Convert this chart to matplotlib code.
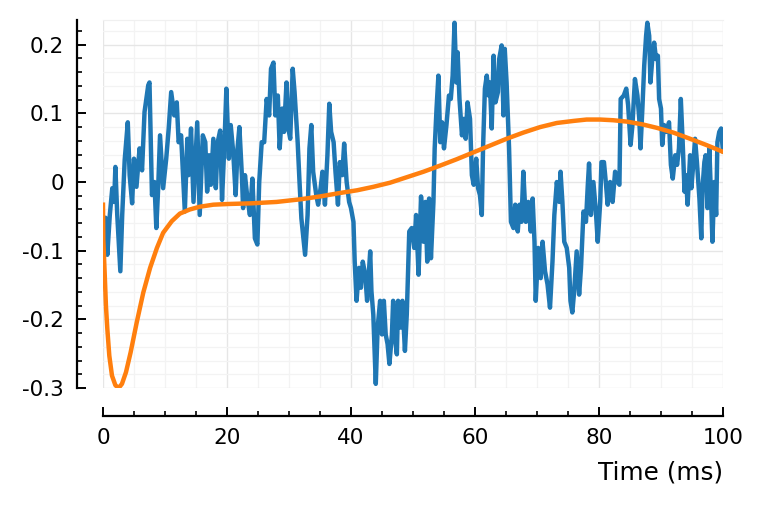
import matplotlib
matplotlib.use("Agg")
from matplotlib import pyplot as plt
from matplotlib.ticker import MultipleLocator

# --- recorded trace (ms, value) --- #
trace_t = [
    0.0, 0.4, 0.7, 1.1, 1.5, 1.8, 2.0, 2.3, 2.8, 3.1, 3.5, 4.0, 4.3, 4.7, 5.0,
    5.4, 5.9, 6.3, 6.7, 7.3, 7.5, 7.9, 8.3, 8.6, 8.9, 9.2, 9.7, 10.2, 10.6,
    11.0, 11.5, 11.9, 12.2, 12.6, 13.2, 13.6, 13.8, 14.2, 14.6, 15.2, 15.6,
    16.1, 16.5, 16.8, 17.1, 17.4, 17.8, 18.2, 18.5, 18.9, 19.2, 19.6, 19.9,
    20.3, 20.6, 21.0, 21.4, 21.7, 22.0, 22.4, 22.6, 22.9, 23.3, 23.7, 24.1,
    24.5, 24.9, 25.2, 25.6, 26.0, 26.4, 26.8, 27.1, 27.5, 27.8, 28.2, 28.5,
    28.9, 29.2, 29.6, 29.9, 30.2, 30.6, 30.9, 31.4, 31.7, 32.0, 32.6, 33.0,
    33.3, 33.6, 33.9, 34.4, 34.7, 35.1, 35.4, 35.8, 36.2, 36.5, 36.8, 37.2,
    37.5, 37.9, 38.2, 38.6, 38.9, 39.3, 39.7, 40.0, 40.4, 40.6, 40.9, 41.3,
    41.6, 41.9, 42.3, 42.6, 43.1, 43.3, 43.6, 44.0, 44.3, 44.7, 45.0, 45.3,
    45.6, 45.9, 46.2, 46.6, 46.8, 47.1, 47.4, 47.6, 48.0, 48.3, 48.7, 49.0,
    49.4, 49.8, 50.2, 50.5, 50.9, 51.3, 51.7, 52.0, 52.3, 52.6, 52.9, 53.3,
    53.5, 53.8, 54.1, 54.4, 54.7, 55.0, 55.4, 55.8, 56.1, 56.4, 56.7, 57.0,
    57.2, 57.5, 57.9, 58.2, 58.5, 58.8, 59.2, 59.5, 59.8, 60.2, 60.5, 60.8,
    61.1, 61.3, 61.6, 61.9, 62.2, 62.4, 62.7, 63.0, 63.3, 63.7, 63.9, 64.3,
    64.6, 64.8, 65.1, 65.5, 65.8, 66.2, 66.5, 66.9, 67.2, 67.5, 67.8, 68.2,
    68.6, 69.0, 69.3, 69.6, 69.8, 70.2, 70.6, 70.9, 71.3, 71.7, 72.1, 72.5,
    72.8, 73.2, 73.6, 73.8, 74.1, 74.4, 74.8, 75.2, 75.4, 75.7, 76.0, 76.4,
    76.8, 77.1, 77.5, 77.9, 78.2, 78.4, 78.7, 79.1, 79.5, 79.8, 80.2, 80.4,
    80.8, 81.1, 81.4, 81.8, 82.2, 82.6, 83.0, 83.3, 83.5, 84.0, 84.4, 84.7,
    85.1, 85.4, 85.8, 86.2, 86.5, 86.7, 87.0, 87.3, 87.6, 87.8, 88.1, 88.3,
    88.6, 88.9, 89.2, 89.5, 89.7, 90.0, 90.2, 90.5, 90.9, 91.3, 91.6, 91.9,
    92.3, 92.6, 92.9, 93.2, 93.5, 93.8, 94.0, 94.3, 94.7, 94.9, 95.2, 95.5,
    95.8, 96.2, 96.5, 96.7, 97.0, 97.2, 97.5, 97.8, 98.1, 98.3, 98.6, 98.9,
    99.1, 99.4, 99.7, 100.0,
]
trace_v = [
    -0.087, -0.052, -0.106, -0.048, -0.009, -0.029, 0.022, -0.048, -0.130,
    -0.048, 0.032, 0.087, 0.010, -0.031, 0.034, -0.007, 0.049, 0.017, 0.102,
    0.141, 0.145, -0.019, 0.000, -0.067, -0.009, 0.068, -0.009, 0.034, 0.078,
    0.131, 0.097, 0.116, 0.058, 0.068, -0.043, 0.063, 0.010, 0.078, -0.029,
    0.087, -0.048, 0.068, 0.058, -0.014, 0.039, -0.004, 0.063, -0.009, 0.058,
    0.075, -0.026, 0.058, 0.136, 0.034, 0.083, 0.044, -0.019, 0.049, 0.080,
    0.010, -0.038, 0.010, -0.024, -0.048, 0.005, -0.082, -0.091, 0.000, 0.058,
    0.058, 0.121, 0.097, 0.165, 0.174, 0.097, 0.126, 0.049, 0.107, 0.073,
    0.145, 0.078, 0.063, 0.165, 0.131, 0.058, 0.000, -0.053, -0.106, -0.048,
    0.049, 0.083, 0.015, -0.019, -0.033, -0.009, 0.015, -0.033, 0.039, 0.114,
    0.073, 0.058, 0.015, -0.033, 0.029, 0.010, 0.056, 0.000, -0.029, -0.038,
    -0.058, -0.116, -0.173, -0.125, -0.154, -0.116, -0.135, -0.173, -0.101,
    -0.159, -0.193, -0.294, -0.212, -0.173, -0.222, -0.173, -0.222, -0.236,
    -0.265, -0.222, -0.173, -0.227, -0.251, -0.173, -0.212, -0.173, -0.246,
    -0.193, -0.072, -0.067, -0.096, -0.048, -0.135, -0.021, -0.087, -0.029,
    -0.116, -0.024, -0.111, -0.029, 0.049, 0.107, 0.155, 0.058, 0.087, 0.049,
    0.083, 0.126, 0.121, 0.155, 0.232, 0.145, 0.189, 0.121, 0.068, 0.092,
    0.063, 0.116, 0.092, 0.010, -0.004, 0.034, -0.009, -0.019, -0.048, 0.049,
    0.136, 0.155, 0.126, 0.145, 0.078, 0.184, 0.116, 0.131, 0.179, 0.199,
    0.097, 0.194, 0.145, 0.049, -0.058, -0.067, -0.033, -0.072, -0.033,
    -0.058, 0.015, -0.058, -0.029, -0.072, -0.024, -0.087, -0.173, -0.096,
    -0.140, -0.087, -0.130, -0.149, -0.183, -0.116, -0.048, 0.000, -0.029,
    0.015, -0.029, -0.087, -0.096, -0.125, -0.173, -0.190, -0.159, -0.101,
    -0.164, -0.125, -0.043, -0.058, -0.004, 0.027, -0.048, 0.000, -0.043,
    -0.087, -0.029, 0.029, 0.029, 0.000, -0.033, 0.000, -0.029, 0.015, 0.000,
    -0.004, 0.121, 0.126, 0.136, 0.112, 0.054, 0.083, 0.150, 0.126, 0.092,
    0.049, 0.107, 0.170, 0.213, 0.232, 0.213, 0.145, 0.179, 0.203, 0.179,
    0.184, 0.121, 0.107, 0.054, 0.083, 0.073, 0.087, 0.025, 0.005, 0.039,
    0.025, 0.049, 0.121, 0.058, -0.014, 0.010, -0.033, 0.039, -0.009, 0.025,
    0.063, 0.029, -0.024, -0.082, -0.009, 0.029, 0.039, -0.038, 0.049, -0.029,
    -0.087, 0.000, -0.048, 0.058, 0.073, 0.078, 0.044,
]

# --- smooth model response --- #
model_t = [0.0, 0.05, 0.27, 0.48, 0.7, 1.02, 1.45, 2.0, 2.53, 3.06, 3.71,
           4.46, 5.43, 6.5, 7.6, 8.7, 9.7, 11.1, 12.4, 14.0, 15.6, 17.8,
           20.2, 24.0, 28.0, 32.0, 35.0, 38.2, 41.0, 43.6, 46.3, 49.0, 51.7,
           54.4, 57.0, 59.7, 62.4, 65.1, 67.8, 70.5, 73.2, 75.9, 78.0, 80.2,
           82.3, 84.5, 87.0, 89.3, 92.0, 94.7, 97.3, 100.0]
model_v = [-0.033, -0.084, -0.132, -0.181, -0.214, -0.253, -0.282, -0.296,
           -0.300, -0.294, -0.277, -0.248, -0.205, -0.161, -0.125, -0.096,
           -0.074, -0.057, -0.046, -0.040, -0.036, -0.033, -0.032, -0.031,
           -0.029, -0.025, -0.021, -0.016, -0.012, -0.007, -0.001, 0.007,
           0.015, 0.024, 0.033, 0.043, 0.053, 0.063, 0.072, 0.080, 0.086,
           0.089, 0.091, 0.091, 0.090, 0.088, 0.084, 0.079, 0.072, 0.063,
           0.054, 0.044]

x_ticks = [0, 20, 40, 60, 80, 100]
y_ticks = [0.2, 0.1, 0.0, -0.1, -0.2, -0.3]
y_tick_labels = ["0.2", "0.1", "0", "-0.1", "-0.2", "-0.3"]


def main():
    plt.rcParams['font.family'] = ['DejaVu Sans']
    fig = plt.figure(figsize=(7.64, 5.05), dpi=100)
    ax = fig.add_axes([0.1348, 0.2317, 0.8115, 0.7287])

    ax.plot(trace_t, trace_v, color='#1f77b4', lw=3.2,
            solid_joinstyle='round', solid_capstyle='round', zorder=3)
    ax.plot(model_t, model_v, color='#ff7f0e', lw=3.2,
            solid_joinstyle='round', zorder=4)

    ax.set_xlim(0, 100)
    ax.set_ylim(-0.3, 0.236)
    ax.set_xticks(x_ticks)
    ax.set_xticklabels([str(t) for t in x_ticks])
    ax.set_yticks(y_ticks)
    ax.set_yticklabels(y_tick_labels)
    ax.xaxis.set_minor_locator(MultipleLocator(5))
    ax.yaxis.set_minor_locator(MultipleLocator(0.02))

    # --- grid --- #
    ax.grid(which='major', color='#e6e6e6', lw=1.0, zorder=0)
    ax.grid(which='minor', color='#f3f3f3', lw=0.9, zorder=0)
    ax.set_axisbelow(True)

    # --- detached axes --- #
    ax.spines['right'].set_visible(False)
    ax.spines['top'].set_color('#f0f0f0')
    ax.spines['top'].set_linewidth(0.9)
    ax.spines['left'].set_position(('outward', 19))
    ax.spines['bottom'].set_position(('outward', 20))
    for side in ('left', 'bottom'):
        ax.spines[side].set_linewidth(1.6)
    ax.tick_params(which='major', direction='in', length=6.5, width=1.4,
                   labelsize=15.5, pad=9)
    ax.tick_params(which='minor', direction='in', length=3.6, width=1.2)

    ax.set_xlabel("Time (ms)", loc='right', fontsize=17.8, labelpad=9)

    fig.savefig("out.png", dpi=100)


if __name__ == '__main__':
    main()
